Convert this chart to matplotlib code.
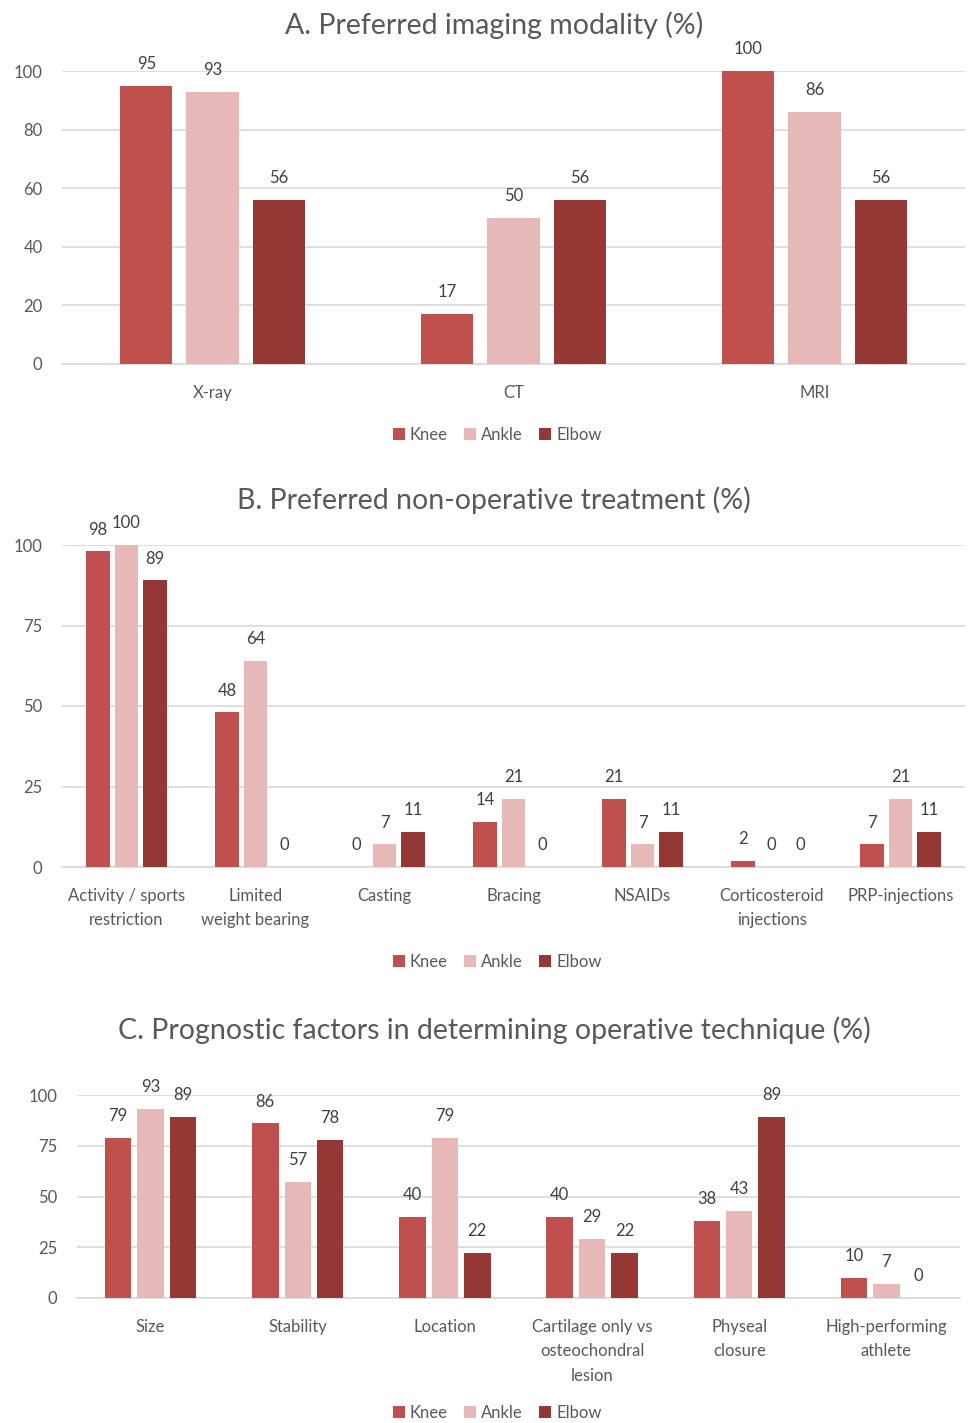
import numpy as np
import matplotlib.pyplot as plt

plt.rcParams['font.family'] = ['Lato', 'DejaVu Sans']

# data
series = ['Knee', 'Ankle', 'Elbow']
colors = ['#C0504D', '#E6B9B8', '#953735']

cat_a = ['X-ray', 'CT', 'MRI']
knee_a = [95, 17, 100]
ankle_a = [93, 50, 86]
elbow_a = [56, 56, 56]

cat_b = ['Activity / sports\nrestriction', 'Limited\nweight bearing', 'Casting', 'Bracing',
         'NSAIDs', 'Corticosteroid\ninjections', 'PRP-injections']
knee_b = [98, 48, 0, 14, 21, 2, 7]
ankle_b = [100, 64, 7, 21, 7, 0, 21]
elbow_b = [89, 0, 11, 0, 11, 0, 11]

cat_c = ['Size', 'Stability', 'Location', 'Cartilage only vs\nosteochondral\nlesion',
         'Physeal\nclosure', 'High-performing\nathlete']
knee_c = [79, 86, 40, 40, 38, 10]
ankle_c = [93, 57, 79, 29, 43, 7]
elbow_c = [89, 78, 22, 22, 89, 0]

W, H = 971, 1423
fig = plt.figure(figsize=(W / 100, H / 100), dpi=100)
txt = '#595959'


def panel(rect, title, cats, vals, yticks, width, title_y, legend_y):
    x0, y_top, x1, y_bot = rect
    ax = fig.add_axes([x0 / W, 1 - y_bot / H, (x1 - x0) / W, (y_bot - y_top) / H])
    x = np.arange(len(cats))
    for i, (name, v, c) in enumerate(zip(series, vals, colors)):
        bars = ax.bar(x + (i - 1) * 0.22, v, width, color=c, label=name, zorder=3)
        ax.bar_label(bars, padding=10, fontsize=12, color='#404040')
    ax.set_xlim(-0.5, len(cats) - 0.5)
    ax.set_ylim(0, 100)
    ax.set_yticks(yticks)
    ax.set_xticks(x)
    ax.set_xticklabels(cats, fontsize=12, color=txt, linespacing=1.65)
    ax.tick_params(axis='y', labelsize=12, labelcolor=txt, length=0, pad=14)
    ax.tick_params(axis='x', length=0, pad=15)
    ax.grid(axis='y', color='#D9D9D9', linewidth=1.2, zorder=0)
    for s in ['top', 'right', 'left']:
        ax.spines[s].set_visible(False)
    ax.spines['bottom'].set_color('#D9D9D9')
    ax.spines['bottom'].set_linewidth(1.2)
    fig.text(494 / W, 1 - title_y / H, title, ha='center', va='center',
             fontsize=20.5, color=txt)
    fig.legend(*ax.get_legend_handles_labels(), loc='center', ncol=3, frameon=False,
               bbox_to_anchor=(0.512, 1 - legend_y / H), fontsize=12, labelcolor=txt,
               handlelength=0.7, handleheight=0.7, handletextpad=0.3, columnspacing=1.0)
    return ax


panel((62, 71, 965, 364), 'A. Preferred imaging modality (%)', cat_a,
      [knee_a, ankle_a, elbow_a], [0, 20, 40, 60, 80, 100], 0.173, 25, 435)
panel((62, 545, 965, 867), 'B. Preferred non-operative treatment (%)', cat_b,
      [knee_b, ankle_b, elbow_b], [0, 25, 50, 75, 100], 0.186, 500, 962)
panel((77, 1095, 960, 1298), 'C. Prognostic factors in determining operative technique (%)', cat_c,
      [knee_c, ankle_c, elbow_c], [0, 25, 50, 75, 100], 0.18, 1030, 1413)

fig.savefig('out.png', dpi=100, facecolor='white')
